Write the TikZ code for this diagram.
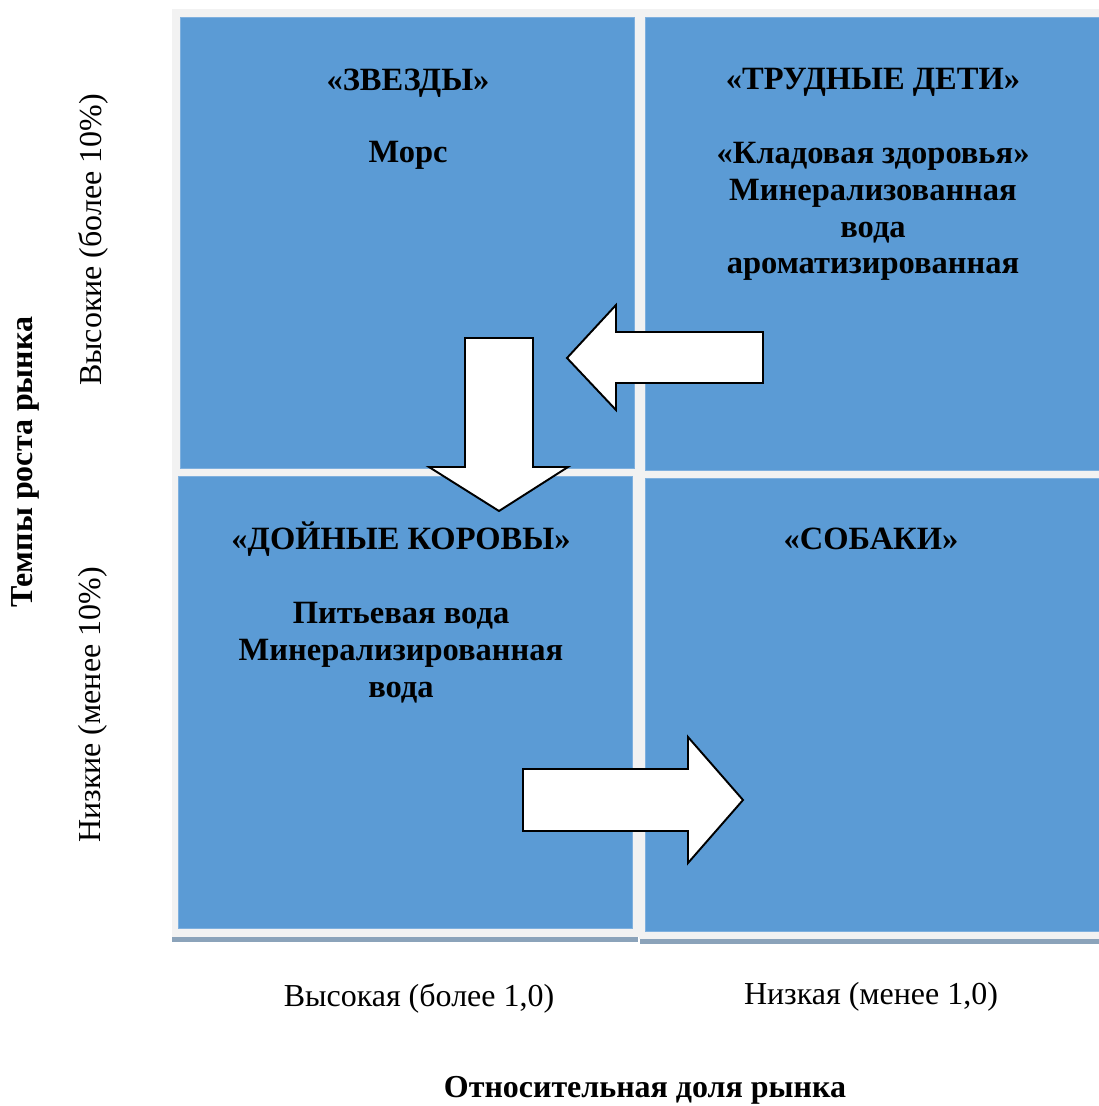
\documentclass[tikz,border=0pt]{standalone}
\usepackage{fontspec}
\setmainfont{Liberation Serif}
\usetikzlibrary{positioning}
\definecolor{cellblue}{HTML}{5B9BD5}
\definecolor{cellrim}{HTML}{7FB0DE}
\definecolor{panelgrey}{HTML}{F2F2F2}
\definecolor{shadowgrey}{HTML}{8BA3BA}
\tikzset{
  cell/.style={fill=cellblue,draw=cellrim,line width=0.4pt},
  blockarrow/.style={fill=white,draw=black,line width=1.1pt,line join=miter},
  celltext/.style={font=\fontsize{18.5}{21}\selectfont\bfseries,anchor=base,inner sep=0pt},
  axistext/.style={font=\fontsize{18.2}{21}\selectfont,inner sep=0pt},
  axistitle/.style={font=\fontsize{18.2}{21}\selectfont\bfseries,inner sep=0pt}
}

\begin{document}
\begin{tikzpicture}[x=0.02cm,y=-0.02cm]
  \useasboundingbox (0,0) rectangle (1099,1106);

  % panel and shadow
  \fill[panelgrey] (172,9) rectangle (1099,937);
  \fill[panelgrey] (639,937) rectangle (1099,939);
  \fill[shadowgrey] (172,937) rectangle (638,942);
  \fill[shadowgrey] (640,939) rectangle (1099,944);

  % quadrants
  \draw[cell] (180,17) rectangle (634,468);
  \draw[cell] (645,17) rectangle (1099,470);
  \draw[cell] (178,476) rectangle (632,928);
  \draw[cell] (645,478) rectangle (1099,931);

  % quadrant texts
  \node[celltext] (stars) at (408,90) {«ЗВЕЗДЫ»};
  \node[celltext] (stars1) at (408,162) {Морс};
  \node[celltext] (qmarks) at (873,89) {«ТРУДНЫЕ ДЕТИ»};
  \node[celltext] (qmarks1) at (873,163) {«Кладовая здоровья»};
  \node[celltext] (qmarks2) at (873,200) {Минерализованная};
  \node[celltext] (qmarks3) at (873,237) {вода};
  \node[celltext] (qmarks4) at (873,273) {ароматизированная};
  \node[celltext] (cows) at (401,549) {«ДОЙНЫЕ КОРОВЫ»};
  \node[celltext] (cows1) at (401,623) {Питьевая вода};
  \node[celltext] (cows2) at (401,660) {Минерализированная};
  \node[celltext] (cows3) at (401,697) {вода};
  \node[celltext] (dogs) at (871,549) {«СОБАКИ»};

  % block arrows
  \draw[blockarrow] (763,332) -- (616,332) -- (616,305) -- (567,358)
    -- (616,410) -- (616,383) -- (763,383) -- cycle;
  \draw[blockarrow] (465,338) -- (533,338) -- (533,467) -- (568,467)
    -- (499,511) -- (429,467) -- (465,467) -- cycle;
  \draw[blockarrow] (523,769) -- (688,769) -- (688,737) -- (743,800)
    -- (688,863) -- (688,831) -- (523,831) -- cycle;

  % axes
  \node[axistext,rotate=90] (ghigh) at (93,240) {Высокие (более 10\%)};
  \node[axistext,rotate=90] (glow) at (93,705) {Низкие (менее 10\%)};
  \node[axistitle,rotate=90] (gtitle) at (25,462) {Темпы роста рынка};
  \node[axistext] (shigh) at (419,998) {Высокая (более 1,0)};
  \node[axistext] (slow) at (871,997) {Низкая (менее 1,0)};
  \node[axistitle] (stitle) at (645,1090) {Относительная доля рынка};
\end{tikzpicture}
\end{document}
